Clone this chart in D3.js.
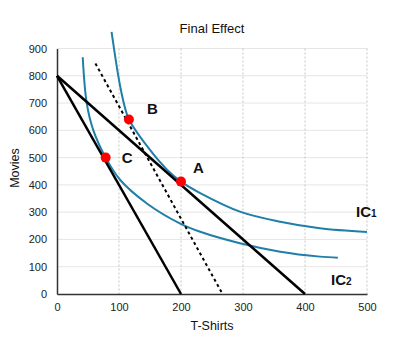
<!DOCTYPE html>
<html>
<head>
<meta charset="utf-8">
<script src="https://cdn.jsdelivr.net/npm/d3@7"></script>
<style>
  body { margin: 0; background: #fff; }
  svg { font-family: "Liberation Sans", Arial, Helvetica, sans-serif; }
</style>
</head>
<body>
<svg id="chart" width="415" height="354"></svg>
<script>
// values
const xTicks = [0, 100, 200, 300, 400, 500];
const yTicks = [0, 100, 200, 300, 400, 500, 600, 700, 800, 900];

const ic1 = [[88, 961], [102, 760], [112, 664], [116, 640], [150, 528], [177, 457], [200, 412],
  [231, 370], [295, 302], [360, 265], [424, 241], [500, 227]];
const ic2 = [[41.5, 868], [48, 699], [58.5, 601], [78.5, 500], [102, 418], [145, 332], [198, 259],
  [231, 228], [295, 186], [360, 155], [424, 137], [453, 133]];

const budget1 = [[0, 800], [400, 0]];
const budget2 = [[0, 800], [200, 0]];
const shifted = [[62, 845], [267, 0]];

const points = [
  { name: "A", x: 200, y: 412 },
  { name: "B", x: 116, y: 640 },
  { name: "C", x: 78.5, y: 500 }
];

const svg = d3.select("#chart");
const margin = { left: 57, top: 48.5, right: 48, bottom: 60 };
const w = 415 - margin.left - margin.right;
const h = 354 - margin.top - margin.bottom;

const x = d3.scaleLinear().domain([0, 500]).range([0, w]);
const y = d3.scaleLinear().domain([0, 900]).range([h, 0]);

const g = svg.append("g").attr("transform", `translate(${margin.left},${margin.top})`);

// horizontal grid
g.selectAll(".hgrid").data(yTicks.filter(d => d > 0)).enter().append("line")
  .attr("x1", 0).attr("x2", w)
  .attr("y1", d => y(d)).attr("y2", d => y(d))
  .attr("stroke", "#e6e6e6").attr("stroke-width", 1);

// vertical dotted grid
g.selectAll(".vgrid").data(xTicks.filter(d => d > 0)).enter().append("line")
  .attr("x1", d => x(d)).attr("x2", d => x(d))
  .attr("y1", 0).attr("y2", h)
  .attr("stroke", "#c4c4c4").attr("stroke-width", 1).attr("stroke-dasharray", "2,2");

// axes
const xAxis = g.append("g").attr("transform", `translate(0,${h})`)
  .call(d3.axisBottom(x).tickValues(xTicks).tickSize(0).tickPadding(9));
const yAxis = g.append("g")
  .call(d3.axisLeft(y).tickValues(yTicks).tickSize(0).tickPadding(10));
[xAxis, yAxis].forEach(a => {
  a.select(".domain").attr("stroke", "#333").attr("stroke-width", 1.5);
  a.selectAll("text").attr("font-size", 11).attr("fill", "#222")
    .attr("font-family", "Liberation Sans, Arial, sans-serif");
});

const line = d3.line().x(d => x(d[0])).y(d => y(d[1]));
const curve = d3.line().x(d => x(d[0])).y(d => y(d[1])).curve(d3.curveCatmullRom.alpha(0.5));

// indifference curves
[ic1, ic2].forEach(c => {
  g.append("path").datum(c).attr("d", curve)
    .attr("fill", "none").attr("stroke", "#1f7fa8").attr("stroke-width", 2);
});

// budget lines
[budget1, budget2].forEach(b => {
  g.append("path").datum(b).attr("d", line)
    .attr("fill", "none").attr("stroke", "#000").attr("stroke-width", 2.5);
});
g.append("path").datum(shifted).attr("d", line)
  .attr("fill", "none").attr("stroke", "#000").attr("stroke-width", 2)
  .attr("stroke-dasharray", "3,3");

// points
g.selectAll(".pt").data(points).enter().append("circle")
  .attr("cx", d => x(d.x)).attr("cy", d => y(d.y)).attr("r", 5)
  .attr("fill", "#f00");

const labelOffsets = { A: [12, -9], B: [18, -5], C: [16, 5] };
g.selectAll(".plabel").data(points).enter().append("text")
  .attr("x", d => x(d.x) + labelOffsets[d.name][0])
  .attr("y", d => y(d.y) + labelOffsets[d.name][1])
  .attr("font-size", 15).attr("font-weight", "bold").attr("fill", "#111")
  .text(d => d.name);

// curve labels
const icLabels = [{ t: "IC", s: "1", px: 299, py: 168.5 }, { t: "IC", s: "2", px: 274, py: 236.5 }];
icLabels.forEach(l => {
  const t = g.append("text").attr("x", l.px).attr("y", l.py)
    .attr("font-size", 15).attr("font-weight", "bold").attr("fill", "#111");
  t.append("tspan").text(l.t);
  t.append("tspan").attr("font-size", 10).text(l.s);
});

// titles
svg.append("text").attr("x", 212).attr("y", 33).attr("text-anchor", "middle")
  .attr("font-size", 13).attr("fill", "#111").text("Final Effect");
svg.append("text").attr("x", 212).attr("y", 330).attr("text-anchor", "middle")
  .attr("font-size", 12.5).attr("fill", "#111").text("T-Shirts");
svg.append("text").attr("transform", "translate(19,168) rotate(-90)").attr("text-anchor", "middle")
  .attr("font-size", 12.5).attr("fill", "#111").text("Movies");
</script>
</body>
</html>
